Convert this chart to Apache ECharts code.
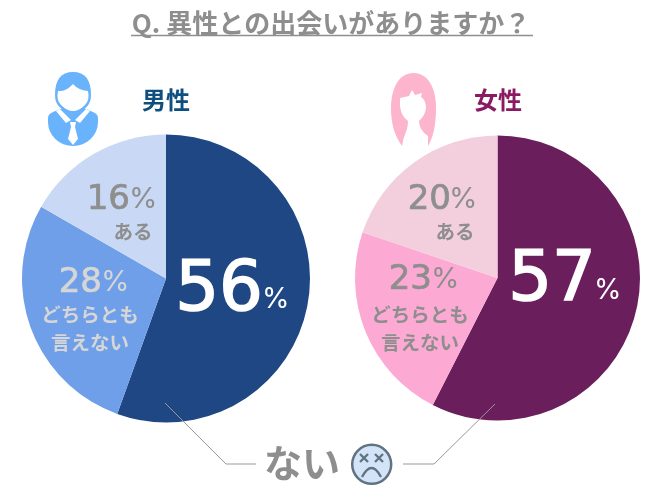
<!DOCTYPE html>
<html><head><meta charset="utf-8">
<style>html,body{margin:0;padding:0;background:#fff}#c{width:663px;height:496px}</style>
<script src="https://cdn.jsdelivr.net/npm/echarts@6/dist/echarts.min.js"></script>
</head><body><div id="c"></div>
<script>
const answerLabels = ['ない', 'どちらとも\n言えない', 'ある'];
const malePrinted = [56, 28, 16];
const femalePrinted = [57, 23, 20];
const maleValues = [55.5, 27.8, 16.7];
const femaleValues = [57.5, 22.7, 19.8];
const maleColors = ['#1e4784', '#6f9fe8', '#c9d9f5'];
const femaleColors = ['#6a1e5c', '#fcaad4', '#f3cfdd'];
const titleText = 'Q. 異性との出会いがありますか？';
const maleName = '男性', femaleName = '女性';

const jp = '"Noto Sans CJK JP"', num = '"DejaVu Sans"', pctFont = 'Inter';
const gray = '#8e8e8e', pale = '#d6d6d6';
const toData = (vals, cols) => vals.map((v, i) => ({ value: v, name: answerLabels[i], itemStyle: { color: cols[i] } }));
const pie = (cx, cy, r, vals, cols) => ({
  type: 'pie', center: [cx, cy], radius: [0, r], startAngle: 90, clockwise: true, silent: true,
  label: { show: false }, labelLine: { show: false }, animation: false, data: toData(vals, cols)
});
const T = (text, x, y, size, fill, family, weight, align, strokeW) => ({
  type: 'text', z: 10, style: Object.assign({
    text, x, y, fill, font: `${weight || 'bold'} ${size}px ${family}`, align: align || 'center', verticalAlign: 'middle'
  }, strokeW ? { stroke: fill, lineWidth: strokeW } : {})
});
const Line = pts => ({ type: 'polyline', z: 11, shape: { points: pts }, style: { stroke: '#999', lineWidth: 1, fill: null } });
let pathCount = 0;
const P = (d, style, z) => {
  const name = 'iconPath' + (pathCount++);
  echarts.graphic.registerShape(name, echarts.graphic.extendPath(d));
  return { type: name, z: z || 9, style };
};
const Pct = (n, numRight, y, pctLeft, size, pctSize, fill, sw) => [
  T(String(n), numRight, y + (size > 50 ? 5 : 2), size, fill, num, 'normal', 'right', sw),
  T('%', pctLeft, y + (size > 50 ? 13 : 1), pctSize, fill, pctFont, 400, 'left')
];

const man = '#68b3fb', woman = '#fdb4cd';
const graphics = [
  T(titleText, 331, 23, 26, gray, jp),
  { type: 'line', z: 10, shape: { x1: 131, y1: 35.5, x2: 533, y2: 35.5 }, style: { stroke: gray, lineWidth: 1.5 } },
  T(maleName, 166, 100, 24, '#0f4f80', jp),
  T(femaleName, 498, 100, 24, '#8a1b63', jp),

  // male icon
  P('M48 118 Q48 114 53 112 L68 106 L79 106 L93 112 Q98 114 98 118 L98 122 A25 24 0 0 1 48 122 Z', { fill: man }),
  P('M55 95 Q55 72 73 72 Q91 72 91 95 Q91 110 73 113 Q55 110 55 95 Z', { fill: man }),
  P('M58 91 Q66 92 73 84 Q78 90 88 91 Q90 100 85 105 Q79 111 73 111 Q67 111 61 105 Q56 100 58 91 Z', { fill: '#fff' }),
  P('M56 111 L60 109 L71 120 L66 123 Z M90 111 L86 109 L75 120 L80 123 Z', { fill: '#fff' }),
  P('M70 122 L76 122 L75 127 L78 139 L73 145 L68 139 L71 127 Z', { fill: '#fff' }),

  // female icon
  P('M413.5 73 C428 73 436 88 436 108 C436 125 433 138 428 146 L402 146 C395 136 391 125 391 108 C391 88 399 73 413.5 73 Z', { fill: woman }),
  P('M400 98 L409 96 L412 90 L415 95 L422 93 L421 97 Q426 100 426 108 Q425 116 419 121 Q419 130 428 136 L428 146 L402 146 Q403 138 407 129 Q408 124 408 121 Q401 116 400 106 Z', { fill: '#fff' }),

  // male labels
  ...Pct(malePrinted[2], 130, 198, 129, 34, 29, gray, 0.7),
  T(answerLabels[2], 133, 232, 19.5, gray, jp),
  ...Pct(malePrinted[1], 102, 281, 101, 34, 29, pale, 0.7),
  T('どちらとも', 90, 315, 19.5, pale, jp),
  T('言えない', 90, 343, 19.5, pale, jp),
  ...Pct(malePrinted[0], 263, 287, 262, 69, 28, '#fff', 1.6),

  // female labels
  ...Pct(femalePrinted[2], 451, 198, 449, 34, 29, gray, 0.7),
  T(answerLabels[2], 455, 232, 19.5, gray, jp),
  ...Pct(femalePrinted[1], 432, 278.5, 431, 34, 29, gray, 0.7),
  T('どちらとも', 420, 315, 19.5, gray, jp),
  T('言えない', 420, 343, 19.5, gray, jp),
  ...Pct(femalePrinted[0], 596, 277.5, 594, 69, 28, '#fff', 1.6),

  // bottom callout
  Line([[165, 403], [226, 464], [256, 464]]),
  Line([[495, 404], [434, 464], [403, 464]]),
  T(answerLabels[0], 302, 463, 38, gray, jp),
  { type: 'circle', z: 10, shape: { cx: 371.7, cy: 464.3, r: 19.5 }, style: { fill: '#d3e3f8', stroke: '#5f7380', lineWidth: 2.5 } },
  P('M360 454 L368 462 M368 454 L360 462 M375 454 L383 462 M383 454 L375 462 M362 477 Q371.5 459 381 477', { stroke: '#5f7380', lineWidth: 2.3, fill: null }, 11)
];

const chart = echarts.init(document.getElementById('c'), null, { renderer: 'canvas' });
chart.setOption({
  animation: false,
  backgroundColor: '#fff',
  series: [pie(166, 278.5, 144, maleValues, maleColors), pie(497.5, 278, 142.5, femaleValues, femaleColors)],
  graphic: { elements: graphics }
});
</script></body></html>
